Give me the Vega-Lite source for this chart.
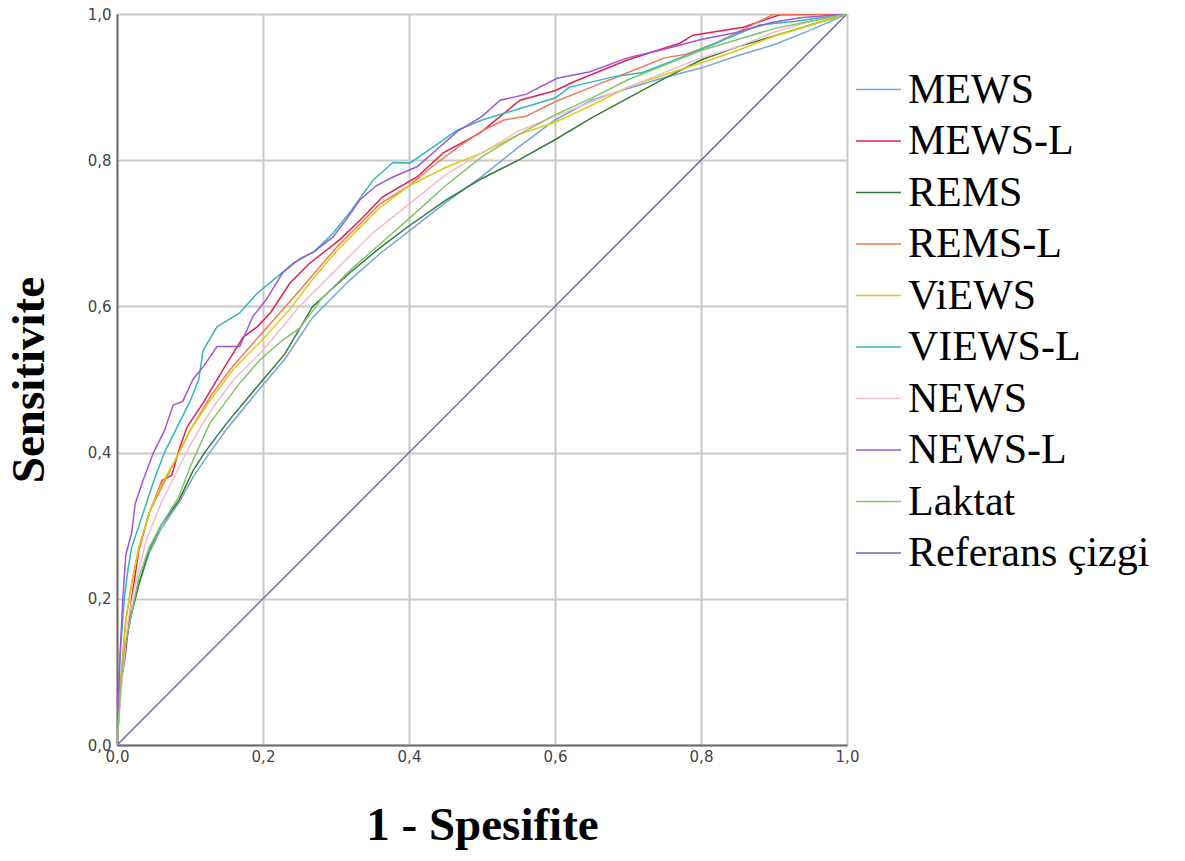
{
  "$schema": "https://vega.github.io/schema/vega-lite/v6.json",
  "width": 730,
  "height": 731,
  "autosize": {"type": "none"},
  "padding": {"left": 117, "top": 14, "right": 338, "bottom": 116},
  "background": "white",
  "view": {"stroke": null},
  "datasets": {
    "roc": [
      {"s":"Referans çizgi","x":0,"y":0},{"s":"Referans çizgi","x":1,"y":1},

      {"s":"MEWS","x":0,"y":0},{"s":"MEWS","x":0.005,"y":0.08},{"s":"MEWS","x":0.01,"y":0.13},{"s":"MEWS","x":0.02,"y":0.18},{"s":"MEWS","x":0.03,"y":0.22},{"s":"MEWS","x":0.044,"y":0.262},{"s":"MEWS","x":0.06,"y":0.295},{"s":"MEWS","x":0.085,"y":0.332},{"s":"MEWS","x":0.104,"y":0.366},{"s":"MEWS","x":0.12,"y":0.39},{"s":"MEWS","x":0.15,"y":0.432},{"s":"MEWS","x":0.196,"y":0.488},{"s":"MEWS","x":0.23,"y":0.528},{"s":"MEWS","x":0.268,"y":0.585},{"s":"MEWS","x":0.319,"y":0.636},{"s":"MEWS","x":0.36,"y":0.672},{"s":"MEWS","x":0.4,"y":0.703},{"s":"MEWS","x":0.45,"y":0.742},{"s":"MEWS","x":0.5,"y":0.778},{"s":"MEWS","x":0.55,"y":0.818},{"s":"MEWS","x":0.6,"y":0.855},{"s":"MEWS","x":0.65,"y":0.882},{"s":"MEWS","x":0.7,"y":0.898},{"s":"MEWS","x":0.75,"y":0.913},{"s":"MEWS","x":0.8,"y":0.926},{"s":"MEWS","x":0.85,"y":0.943},{"s":"MEWS","x":0.9,"y":0.958},{"s":"MEWS","x":0.95,"y":0.978},{"s":"MEWS","x":1,"y":1},

      {"s":"MEWS-L","x":0,"y":0},{"s":"MEWS-L","x":0.005,"y":0.08},{"s":"MEWS-L","x":0.011,"y":0.12},{"s":"MEWS-L","x":0.02,"y":0.2},{"s":"MEWS-L","x":0.03,"y":0.267},{"s":"MEWS-L","x":0.044,"y":0.317},{"s":"MEWS-L","x":0.062,"y":0.362},{"s":"MEWS-L","x":0.075,"y":0.369},{"s":"MEWS-L","x":0.085,"y":0.404},{"s":"MEWS-L","x":0.096,"y":0.435},{"s":"MEWS-L","x":0.118,"y":0.468},{"s":"MEWS-L","x":0.151,"y":0.523},{"s":"MEWS-L","x":0.173,"y":0.558},{"s":"MEWS-L","x":0.192,"y":0.572},{"s":"MEWS-L","x":0.21,"y":0.591},{"s":"MEWS-L","x":0.237,"y":0.632},{"s":"MEWS-L","x":0.264,"y":0.659},{"s":"MEWS-L","x":0.305,"y":0.691},{"s":"MEWS-L","x":0.335,"y":0.72},{"s":"MEWS-L","x":0.364,"y":0.75},{"s":"MEWS-L","x":0.411,"y":0.777},{"s":"MEWS-L","x":0.447,"y":0.81},{"s":"MEWS-L","x":0.497,"y":0.837},{"s":"MEWS-L","x":0.552,"y":0.882},{"s":"MEWS-L","x":0.6,"y":0.895},{"s":"MEWS-L","x":0.625,"y":0.907},{"s":"MEWS-L","x":0.699,"y":0.937},{"s":"MEWS-L","x":0.771,"y":0.96},{"s":"MEWS-L","x":0.789,"y":0.971},{"s":"MEWS-L","x":0.858,"y":0.982},{"s":"MEWS-L","x":0.908,"y":0.999},{"s":"MEWS-L","x":1,"y":1},

      {"s":"REMS","x":0,"y":0},{"s":"REMS","x":0.005,"y":0.08},{"s":"REMS","x":0.01,"y":0.13},{"s":"REMS","x":0.02,"y":0.18},{"s":"REMS","x":0.03,"y":0.22},{"s":"REMS","x":0.044,"y":0.267},{"s":"REMS","x":0.06,"y":0.3},{"s":"REMS","x":0.085,"y":0.335},{"s":"REMS","x":0.104,"y":0.375},{"s":"REMS","x":0.12,"y":0.4},{"s":"REMS","x":0.15,"y":0.44},{"s":"REMS","x":0.196,"y":0.495},{"s":"REMS","x":0.23,"y":0.535},{"s":"REMS","x":0.268,"y":0.6},{"s":"REMS","x":0.319,"y":0.646},{"s":"REMS","x":0.36,"y":0.68},{"s":"REMS","x":0.4,"y":0.71},{"s":"REMS","x":0.45,"y":0.745},{"s":"REMS","x":0.5,"y":0.775},{"s":"REMS","x":0.55,"y":0.8},{"s":"REMS","x":0.6,"y":0.828},{"s":"REMS","x":0.65,"y":0.858},{"s":"REMS","x":0.7,"y":0.885},{"s":"REMS","x":0.75,"y":0.912},{"s":"REMS","x":0.8,"y":0.937},{"s":"REMS","x":0.85,"y":0.955},{"s":"REMS","x":0.9,"y":0.97},{"s":"REMS","x":0.95,"y":0.985},{"s":"REMS","x":1,"y":1},

      {"s":"REMS-L","x":0,"y":0},{"s":"REMS-L","x":0.006,"y":0.1},{"s":"REMS-L","x":0.012,"y":0.17},{"s":"REMS-L","x":0.02,"y":0.22},{"s":"REMS-L","x":0.03,"y":0.27},{"s":"REMS-L","x":0.045,"y":0.32},{"s":"REMS-L","x":0.06,"y":0.35},{"s":"REMS-L","x":0.08,"y":0.39},{"s":"REMS-L","x":0.1,"y":0.43},{"s":"REMS-L","x":0.13,"y":0.48},{"s":"REMS-L","x":0.16,"y":0.52},{"s":"REMS-L","x":0.2,"y":0.565},{"s":"REMS-L","x":0.24,"y":0.61},{"s":"REMS-L","x":0.27,"y":0.645},{"s":"REMS-L","x":0.3,"y":0.68},{"s":"REMS-L","x":0.33,"y":0.71},{"s":"REMS-L","x":0.36,"y":0.74},{"s":"REMS-L","x":0.4,"y":0.765},{"s":"REMS-L","x":0.43,"y":0.79},{"s":"REMS-L","x":0.47,"y":0.82},{"s":"REMS-L","x":0.5,"y":0.84},{"s":"REMS-L","x":0.53,"y":0.855},{"s":"REMS-L","x":0.56,"y":0.86},{"s":"REMS-L","x":0.6,"y":0.88},{"s":"REMS-L","x":0.65,"y":0.9},{"s":"REMS-L","x":0.7,"y":0.92},{"s":"REMS-L","x":0.75,"y":0.94},{"s":"REMS-L","x":0.78,"y":0.945},{"s":"REMS-L","x":0.82,"y":0.96},{"s":"REMS-L","x":0.86,"y":0.98},{"s":"REMS-L","x":0.9,"y":1.0},{"s":"REMS-L","x":1,"y":1},

      {"s":"ViEWS","x":0,"y":0},{"s":"ViEWS","x":0.006,"y":0.1},{"s":"ViEWS","x":0.012,"y":0.17},{"s":"ViEWS","x":0.02,"y":0.22},{"s":"ViEWS","x":0.03,"y":0.27},{"s":"ViEWS","x":0.045,"y":0.32},{"s":"ViEWS","x":0.06,"y":0.355},{"s":"ViEWS","x":0.08,"y":0.39},{"s":"ViEWS","x":0.1,"y":0.43},{"s":"ViEWS","x":0.13,"y":0.475},{"s":"ViEWS","x":0.16,"y":0.515},{"s":"ViEWS","x":0.2,"y":0.555},{"s":"ViEWS","x":0.24,"y":0.6},{"s":"ViEWS","x":0.27,"y":0.64},{"s":"ViEWS","x":0.3,"y":0.675},{"s":"ViEWS","x":0.33,"y":0.705},{"s":"ViEWS","x":0.36,"y":0.735},{"s":"ViEWS","x":0.4,"y":0.765},{"s":"ViEWS","x":0.45,"y":0.79},{"s":"ViEWS","x":0.5,"y":0.81},{"s":"ViEWS","x":0.55,"y":0.835},{"s":"ViEWS","x":0.6,"y":0.852},{"s":"ViEWS","x":0.65,"y":0.875},{"s":"ViEWS","x":0.7,"y":0.9},{"s":"ViEWS","x":0.75,"y":0.917},{"s":"ViEWS","x":0.8,"y":0.933},{"s":"ViEWS","x":0.85,"y":0.95},{"s":"ViEWS","x":0.9,"y":0.97},{"s":"ViEWS","x":0.95,"y":0.985},{"s":"ViEWS","x":1,"y":1},

      {"s":"VIEWS-L","x":0,"y":0},{"s":"VIEWS-L","x":0.004,"y":0.12},{"s":"VIEWS-L","x":0.01,"y":0.2},{"s":"VIEWS-L","x":0.015,"y":0.24},{"s":"VIEWS-L","x":0.02,"y":0.27},{"s":"VIEWS-L","x":0.03,"y":0.3},{"s":"VIEWS-L","x":0.04,"y":0.33},{"s":"VIEWS-L","x":0.05,"y":0.36},{"s":"VIEWS-L","x":0.065,"y":0.4},{"s":"VIEWS-L","x":0.08,"y":0.43},{"s":"VIEWS-L","x":0.1,"y":0.47},{"s":"VIEWS-L","x":0.112,"y":0.5},{"s":"VIEWS-L","x":0.118,"y":0.54},{"s":"VIEWS-L","x":0.137,"y":0.572},{"s":"VIEWS-L","x":0.168,"y":0.591},{"s":"VIEWS-L","x":0.192,"y":0.618},{"s":"VIEWS-L","x":0.219,"y":0.64},{"s":"VIEWS-L","x":0.241,"y":0.659},{"s":"VIEWS-L","x":0.27,"y":0.675},{"s":"VIEWS-L","x":0.296,"y":0.7},{"s":"VIEWS-L","x":0.32,"y":0.73},{"s":"VIEWS-L","x":0.351,"y":0.773},{"s":"VIEWS-L","x":0.378,"y":0.797},{"s":"VIEWS-L","x":0.401,"y":0.796},{"s":"VIEWS-L","x":0.433,"y":0.818},{"s":"VIEWS-L","x":0.466,"y":0.841},{"s":"VIEWS-L","x":0.5,"y":0.855},{"s":"VIEWS-L","x":0.55,"y":0.87},{"s":"VIEWS-L","x":0.6,"y":0.885},{"s":"VIEWS-L","x":0.62,"y":0.9},{"s":"VIEWS-L","x":0.68,"y":0.914},{"s":"VIEWS-L","x":0.72,"y":0.92},{"s":"VIEWS-L","x":0.771,"y":0.94},{"s":"VIEWS-L","x":0.82,"y":0.96},{"s":"VIEWS-L","x":0.88,"y":0.985},{"s":"VIEWS-L","x":0.93,"y":0.99},{"s":"VIEWS-L","x":1,"y":1},

      {"s":"NEWS","x":0,"y":0},{"s":"NEWS","x":0.008,"y":0.1},{"s":"NEWS","x":0.015,"y":0.17},{"s":"NEWS","x":0.025,"y":0.22},{"s":"NEWS","x":0.04,"y":0.28},{"s":"NEWS","x":0.06,"y":0.33},{"s":"NEWS","x":0.08,"y":0.37},{"s":"NEWS","x":0.1,"y":0.41},{"s":"NEWS","x":0.13,"y":0.46},{"s":"NEWS","x":0.16,"y":0.5},{"s":"NEWS","x":0.2,"y":0.54},{"s":"NEWS","x":0.25,"y":0.6},{"s":"NEWS","x":0.3,"y":0.65},{"s":"NEWS","x":0.35,"y":0.7},{"s":"NEWS","x":0.4,"y":0.74},{"s":"NEWS","x":0.45,"y":0.78},{"s":"NEWS","x":0.5,"y":0.81},{"s":"NEWS","x":0.55,"y":0.84},{"s":"NEWS","x":0.6,"y":0.86},{"s":"NEWS","x":0.65,"y":0.88},{"s":"NEWS","x":0.7,"y":0.9},{"s":"NEWS","x":0.75,"y":0.92},{"s":"NEWS","x":0.8,"y":0.94},{"s":"NEWS","x":0.85,"y":0.955},{"s":"NEWS","x":0.9,"y":0.975},{"s":"NEWS","x":0.95,"y":0.99},{"s":"NEWS","x":1,"y":1},

      {"s":"NEWS-L","x":0,"y":0},{"s":"NEWS-L","x":0.003,"y":0.1},{"s":"NEWS-L","x":0.008,"y":0.2},{"s":"NEWS-L","x":0.012,"y":0.26},{"s":"NEWS-L","x":0.02,"y":0.29},{"s":"NEWS-L","x":0.025,"y":0.33},{"s":"NEWS-L","x":0.035,"y":0.36},{"s":"NEWS-L","x":0.05,"y":0.4},{"s":"NEWS-L","x":0.065,"y":0.43},{"s":"NEWS-L","x":0.077,"y":0.465},{"s":"NEWS-L","x":0.09,"y":0.47},{"s":"NEWS-L","x":0.104,"y":0.5},{"s":"NEWS-L","x":0.12,"y":0.52},{"s":"NEWS-L","x":0.137,"y":0.545},{"s":"NEWS-L","x":0.168,"y":0.545},{"s":"NEWS-L","x":0.186,"y":0.586},{"s":"NEWS-L","x":0.205,"y":0.61},{"s":"NEWS-L","x":0.227,"y":0.646},{"s":"NEWS-L","x":0.25,"y":0.665},{"s":"NEWS-L","x":0.27,"y":0.675},{"s":"NEWS-L","x":0.296,"y":0.695},{"s":"NEWS-L","x":0.315,"y":0.72},{"s":"NEWS-L","x":0.333,"y":0.746},{"s":"NEWS-L","x":0.355,"y":0.765},{"s":"NEWS-L","x":0.378,"y":0.777},{"s":"NEWS-L","x":0.411,"y":0.791},{"s":"NEWS-L","x":0.442,"y":0.818},{"s":"NEWS-L","x":0.466,"y":0.839},{"s":"NEWS-L","x":0.5,"y":0.86},{"s":"NEWS-L","x":0.525,"y":0.882},{"s":"NEWS-L","x":0.56,"y":0.89},{"s":"NEWS-L","x":0.603,"y":0.912},{"s":"NEWS-L","x":0.648,"y":0.921},{"s":"NEWS-L","x":0.699,"y":0.94},{"s":"NEWS-L","x":0.747,"y":0.951},{"s":"NEWS-L","x":0.8,"y":0.965},{"s":"NEWS-L","x":0.85,"y":0.975},{"s":"NEWS-L","x":0.895,"y":0.988},{"s":"NEWS-L","x":0.936,"y":0.995},{"s":"NEWS-L","x":1,"y":1},

      {"s":"Laktat","x":0,"y":0},{"s":"Laktat","x":0.005,"y":0.08},{"s":"Laktat","x":0.01,"y":0.13},{"s":"Laktat","x":0.02,"y":0.18},{"s":"Laktat","x":0.03,"y":0.23},{"s":"Laktat","x":0.044,"y":0.27},{"s":"Laktat","x":0.06,"y":0.3},{"s":"Laktat","x":0.085,"y":0.34},{"s":"Laktat","x":0.1,"y":0.38},{"s":"Laktat","x":0.127,"y":0.44},{"s":"Laktat","x":0.168,"y":0.495},{"s":"Laktat","x":0.196,"y":0.527},{"s":"Laktat","x":0.227,"y":0.554},{"s":"Laktat","x":0.25,"y":0.57},{"s":"Laktat","x":0.28,"y":0.61},{"s":"Laktat","x":0.32,"y":0.65},{"s":"Laktat","x":0.36,"y":0.685},{"s":"Laktat","x":0.4,"y":0.72},{"s":"Laktat","x":0.45,"y":0.765},{"s":"Laktat","x":0.5,"y":0.805},{"s":"Laktat","x":0.55,"y":0.835},{"s":"Laktat","x":0.6,"y":0.862},{"s":"Laktat","x":0.65,"y":0.885},{"s":"Laktat","x":0.7,"y":0.91},{"s":"Laktat","x":0.75,"y":0.93},{"s":"Laktat","x":0.8,"y":0.95},{"s":"Laktat","x":0.85,"y":0.965},{"s":"Laktat","x":0.9,"y":0.98},{"s":"Laktat","x":0.95,"y":0.99},{"s":"Laktat","x":1,"y":1}
    ]
  },
  "data": {"name": "roc"},
  "mark": {"type": "line", "strokeWidth": 1.5, "clip": true},
  "encoding": {
    "x": {
      "field": "x", "type": "quantitative",
      "scale": {"domain": [0, 1], "nice": false, "zero": false},
      "axis": {
        "values": [0, 0.2, 0.4, 0.6, 0.8, 1],
        "labelExpr": "replace(format(datum.value, '.1f'), '.', ',')",
        "labelFlush": false,
        "title": "1 - Spesifite",
        "titleFont": "Liberation Serif", "titleFontSize": 47, "titleFontWeight": "bold", "titleColor": "#000000",
        "titlePadding": 38,
        "labelFont": "DejaVu Sans", "labelFontSize": 15, "labelColor": "#444444", "labelPadding": 4,
        "ticks": false,
        "domainColor": "#6e6e6e", "domainWidth": 2,
        "gridColor": "#c8c8c8", "gridWidth": 2
      }
    },
    "y": {
      "field": "y", "type": "quantitative",
      "scale": {"domain": [0, 1], "nice": false, "zero": false},
      "axis": {
        "values": [0, 0.2, 0.4, 0.6, 0.8, 1],
        "labelExpr": "replace(format(datum.value, '.1f'), '.', ',')",
        "labelFlush": false,
        "title": "Sensitivite",
        "titleFont": "Liberation Serif", "titleFontSize": 47, "titleFontWeight": "bold", "titleColor": "#000000",
        "titlePadding": 34,
        "labelFont": "DejaVu Sans", "labelFontSize": 15, "labelColor": "#444444", "labelPadding": 6,
        "ticks": false,
        "domainColor": "#6e6e6e", "domainWidth": 2,
        "gridColor": "#c8c8c8", "gridWidth": 2
      }
    },
    "color": {
      "field": "s", "type": "nominal",
      "scale": {
        "domain": ["MEWS", "MEWS-L", "REMS", "REMS-L", "ViEWS", "VIEWS-L", "NEWS", "NEWS-L", "Laktat", "Referans çizgi"],
        "range": ["#72a6dc", "#e0224f", "#2f7d3a", "#f07a5a", "#dccc10", "#2fb8b8", "#f4bccc", "#a056dc", "#82c468", "#6b6bb0"]
      },
      "legend": {
        "orient": "none", "legendX": 738, "legendY": 52,
        "title": null,
        "symbolType": "stroke", "symbolSize": 2025, "symbolStrokeWidth": 1.5,
        "labelFont": "Liberation Serif", "labelFontSize": 42, "labelColor": "#000000",
        "labelOffset": 6, "rowPadding": 6.5, "labelLimit": 400
      }
    }
  }
}
